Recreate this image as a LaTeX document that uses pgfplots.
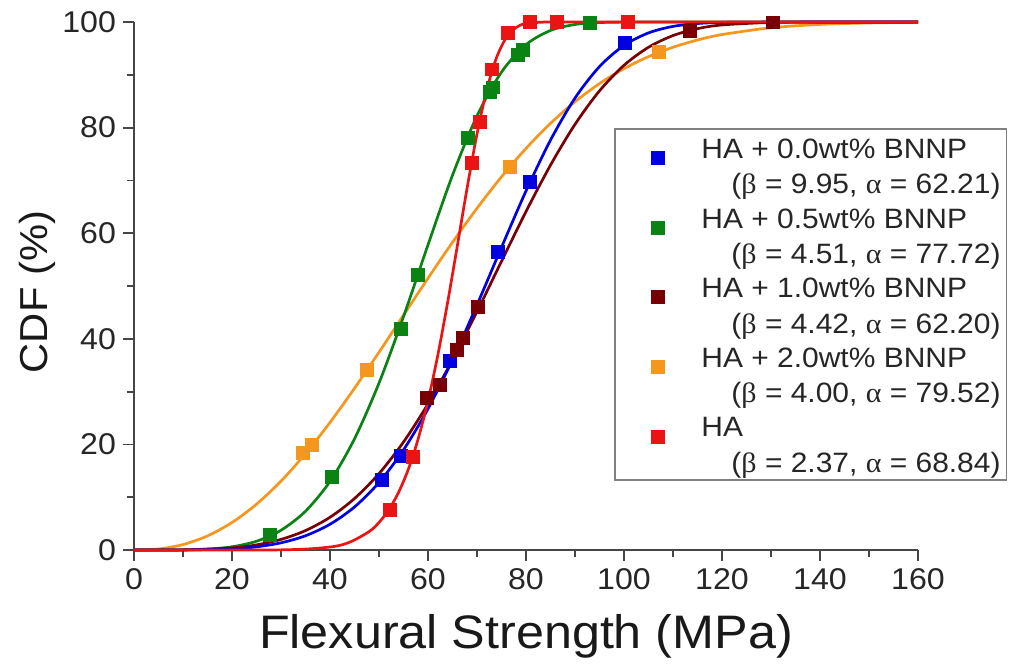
\documentclass[border=0pt]{standalone}
\usepackage{fontspec}
\setmainfont{Liberation Sans}[FakeStretch=1.07]
\newfontfamily\grk{Liberation Serif}[FakeStretch=1.07]
\usepackage{pgfplots}
\pgfplotsset{compat=1.18}
\definecolor{cblue}{RGB}{0,0,225}
\definecolor{cgreen}{RGB}{10,130,20}
\definecolor{cdred}{RGB}{120,0,5}
\definecolor{corange}{RGB}{245,150,30}
\definecolor{cred}{RGB}{235,20,20}
\definecolor{axc}{RGB}{70,70,70}
\begin{document}
\begin{tikzpicture}
\begin{axis}[
  scale only axis, width=392pt, height=264pt,
  xmin=0, xmax=160, ymin=0, ymax=100,
  axis lines=left,
  axis line style={-, draw=axc, line width=1pt},
  xtick={0,20,...,160}, ytick={0,20,...,100},
  minor x tick num=1, minor y tick num=1,
  tick align=outside, major tick length=5.5pt, minor tick length=3.5pt,
  every tick/.style={axc, line width=0.9pt},
  /pgf/number format/assume math mode=true,
  ticklabel style={font=\fontsize{15}{18}\selectfont, text=black!85},
  xlabel={Flexural Strength (MPa)},
  ylabel={CDF (\%)},
  xlabel style={at={([yshift=-49pt]axis description cs:0.5,0)}, anchor=base, font=\fontsize{23.5}{28}\selectfont, text=black!90},
  ylabel style={at={([xshift=-43pt,yshift=-3pt]axis description cs:0,0.5)}, anchor=base, font=\fontsize{19.5}{24}\selectfont, text=black!90},
  clip=false,
  legend style={at={(0.6122,0.7992)}, anchor=north west, draw=black!50, line width=0.8pt,
    inner xsep=3pt, inner ysep=2.5pt, row sep=3.3pt, column sep=0pt,
    nodes={inner sep=0pt}, cells={align=left},
    font=\fontsize{14}{17.65}\selectfont, text=black!85},
  legend image code/.code={\path (-18pt,0pt) (21pt,0pt); \path[#1] plot coordinates {(0pt,0.36em)};},
  every axis plot/.append style={line width=1.35pt},
]
% fitted curves
\addplot[corange, smooth, forget plot] coordinates {(0,0) (5,0.20) (10,1.03) (15,2.67) (20,5.21) (25,8.68) (30,13.05) (35,18.25) (40,24.16) (45,30.63) (50,37.46) (55,44.47) (60,51.47) (65,58.28) (70,64.72) (75,70.68) (80,76.06) (85,80.80) (90,84.90) (95,88.34) (100,91.16) (105,93.44) (110,95.22) (115,96.59) (120,97.62) (130,98.91) (140,99.54) (150,99.82) (160,99.94)};
\addplot[cgreen, smooth, forget plot] coordinates {(0,0) (10,0.03) (15,0.17) (20,0.61) (25,1.66) (30,3.74) (35,7.35) (40,12.99) (45,21.06) (50,31.61) (55,44.19) (60,57.80) (65,70.98) (70,82.21) (75,90.52) (80,95.71) (85,98.40) (90,99.53) (95,99.89) (100,99.98) (110,100) (160,100)};
\addplot[cdred, smooth, forget plot] coordinates {(0,0) (10,0.03) (20,0.40) (25,0.97) (30,2.01) (35,3.68) (40,6.20) (45,9.75) (50,14.47) (55,20.45) (60,27.68) (65,36.01) (70,45.14) (75,54.68) (80,64.10) (85,72.89) (90,80.62) (95,86.96) (100,91.80) (105,95.22) (110,97.43) (115,98.74) (120,99.44) (130,99.92) (140,99.99) (150,100) (160,100)};
\addplot[cblue, smooth, forget plot] coordinates {(0,0) (10,0.01) (20,0.22) (25,0.60) (30,1.36) (35,2.70) (40,4.88) (45,8.15) (50,12.78) (55,18.96) (60,26.74) (65,36.02) (70,46.42) (75,57.32) (80,67.99) (85,77.63) (90,85.60) (95,91.56) (100,95.57) (105,97.94) (110,99.17) (115,99.71) (120,99.92) (130,99.99) (140,100) (160,100)};
\addplot[cred, smooth, forget plot] coordinates {(0,0) (30,0.03) (40,0.57) (44,1.48) (48,3.50) (50,5.22) (52,7.62) (54,10.93) (56,15.32) (58,21.07) (60,28.25) (62,36.89) (64,46.87) (66,57.68) (68,68.65) (70,78.78) (72,87.18) (74,93.29) (76,97.07) (78,98.97) (80,99.72) (84,99.99) (90,100) (160,100)};
% measured points
\addplot[only marks, mark=square*, mark size=2.8pt, cblue] coordinates {(50.6,13.3) (54.5,17.8) (64.5,35.8) (74.3,56.4) (80.8,69.7) (100.2,96.0)};
\addlegendentry{\strut HA + 0.0wt\% BNNP\\\hspace*{15pt}\strut({\grk β} = 9.95, {\grk α} = 62.21)}
\addplot[only marks, mark=square*, mark size=2.8pt, cgreen] coordinates {(27.8,2.8) (40.4,13.8) (54.5,41.9) (58.0,52.1) (68.2,78.0) (72.7,86.7) (73.2,87.6) (78.4,93.8) (79.4,94.7) (93,99.8)};
\addlegendentry{\strut HA + 0.5wt\% BNNP\\\hspace*{15pt}\strut({\grk β} = 4.51, {\grk α} = 77.72)}
\addplot[only marks, mark=square*, mark size=2.8pt, cdred] coordinates {(59.8,28.8) (62.4,31.3) (65.9,37.9) (67.2,40.1) (70.2,46.0) (113.5,98.3) (130.4,99.9)};
\addlegendentry{\strut HA + 1.0wt\% BNNP\\\hspace*{15pt}\strut({\grk β} = 4.42, {\grk α} = 62.20)}
\addplot[only marks, mark=square*, mark size=2.8pt, corange] coordinates {(34.5,18.4) (36.3,19.9) (47.6,34.1) (76.7,72.5) (107.1,94.3)};
\addlegendentry{\strut HA + 2.0wt\% BNNP\\\hspace*{15pt}\strut({\grk β} = 4.00, {\grk α} = 79.52)}
\addplot[only marks, mark=square*, mark size=2.8pt, cred] coordinates {(52.2,7.6) (57.0,17.6) (69.0,73.3) (70.6,81.0) (73.0,91.0) (76.3,98.0) (80.8,100) (86.3,100) (100.8,100)};
\addlegendentry{\strut HA\\\hspace*{15pt}\strut({\grk β} = 2.37, {\grk α} = 68.84)}
\end{axis}
\pgfresetboundingbox
\path (current axis.south west) ++(-67pt,-58pt) rectangle ++(508.5pt,333pt);
\end{tikzpicture}
\end{document}
